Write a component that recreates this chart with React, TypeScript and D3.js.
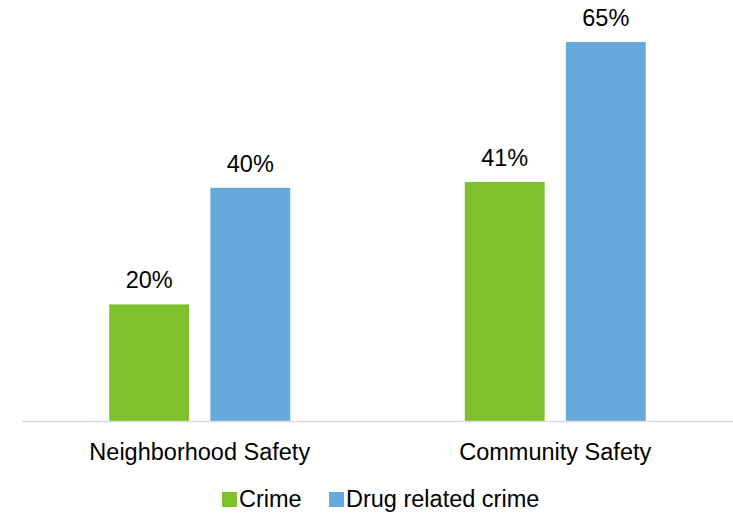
import React from "react";
import * as d3 from "d3";

const categories = ["Neighborhood Safety", "Community Safety"];
const seriesNames = ["Crime", "Drug related crime"];
const crimeValues = [20, 41];
const drugValues = [40, 65];
const colors = ["#7EC12A", "#67A9DB"];

const W = 733;
const H = 514;

export default function App() {
  const x0 = d3.scaleBand<string>().domain(categories).range([22, 733]).paddingInner(0).paddingOuter(0);
  const x1 = d3.scaleBand<string>().domain(seriesNames).range([0, 181]).paddingInner(0.21);
  const y = d3.scaleLinear().domain([0, 70]).range([421, 421 - 70 * 5.83]);
  const groupOffset = (x0.bandwidth() - 181) / 2;
  const series = [crimeValues, drugValues];
  const font = "'Liberation Sans', Arial, sans-serif";
  const fs = 23.5;

  return (
    <svg width={W} height={H} style={{ position: "absolute", left: 0, top: 0 }}>
      <rect width={W} height={H} fill="#fff" />
      {categories.map((c, ci) =>
        seriesNames.map((s, si) => {
          const v = series[si][ci];
          const bx = (x0(c) as number) + groupOffset + (x1(s) as number);
          const bw = x1.bandwidth();
          return (
            <g key={c + s}>
              <rect x={bx} y={y(v)} width={bw} height={y(0) - y(v)} fill={colors[si]} />
              <text x={bx + bw / 2} y={y(v) - 16} textAnchor="middle" fontFamily={font} fontSize={fs} fill="#000">
                {v}%
              </text>
            </g>
          );
        })
      )}
      <line x1={22} x2={733} y1={y(0) + 0.5} y2={y(0) + 0.5} stroke="#d9d9d9" strokeWidth={1.5} />
      {categories.map((c) => (
        <text key={c} x={(x0(c) as number) + x0.bandwidth() / 2} y={460} textAnchor="middle" fontFamily={font} fontSize={fs} fill="#000">
          {c}
        </text>
      ))}
      {seriesNames.map((s, i) => {
        const lx = [222, 329][i];
        return (
          <g key={s}>
            <rect x={lx} y={492} width={15} height={15} fill={colors[i]} />
            <text x={lx + 17} y={507} fontFamily={font} fontSize={fs} fill="#000">
              {s}
            </text>
          </g>
        );
      })}
    </svg>
  );
}
